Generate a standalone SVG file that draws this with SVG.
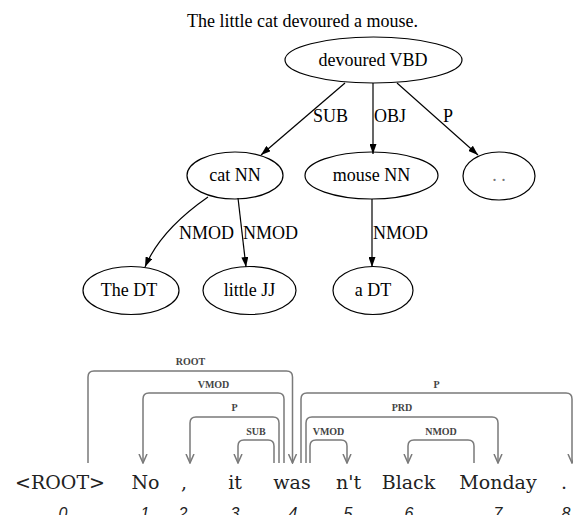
<svg xmlns="http://www.w3.org/2000/svg" width="573" height="515" viewBox="0 0 573 515">
  <style>
    .node ellipse { fill: none; stroke: #000; stroke-width: 1.2; }
    .t { font-family: "Liberation Serif", "Times New Roman", serif; font-size: 18px; fill: #000; }
    .mid { text-anchor: middle; }
    .edge { fill: none; stroke: #000; stroke-width: 1.2; marker-end: url(#solid); }
    .arc { fill: none; stroke: #7a7a7a; stroke-width: 1.5; }
    .arc.head { marker-end: url(#open); }
    .lab { font-family: "Liberation Serif", "Times New Roman", serif; font-size: 10px; font-weight: bold; fill: #444; text-anchor: middle; }
    .word { font-family: "DejaVu Serif", serif; font-size: 19px; fill: #222; text-anchor: middle; }
    .idx { font-family: "Liberation Sans", Arial, sans-serif; font-size: 16px; font-style: italic; fill: #222; text-anchor: middle; }
  </style>
  <defs>
    <marker id="solid" viewBox="0 0 10 7" refX="10" refY="3.5" markerWidth="10" markerHeight="7" markerUnits="userSpaceOnUse" orient="auto">
      <path d="M0,0 L10,3.5 L0,7 z" fill="#000"/>
    </marker>
    <marker id="open" viewBox="0 0 10 10" refX="9" refY="5" markerWidth="10" markerHeight="10" markerUnits="userSpaceOnUse" orient="auto">
      <path d="M0,1 L9,5 L0,9" fill="none" stroke="#7a7a7a" stroke-width="1.5"/>
    </marker>
  </defs>

  <!-- constituent tree -->
  <text class="t" x="187" y="27">The little cat devoured a mouse.</text>

  <g id="edges-tree">
    <path class="edge" d="M345,83 L261,155"/>
    <path class="edge" d="M373,83 L373,154"/>
    <path class="edge" d="M397,83 L478,155"/>
    <path class="edge" d="M208,197 C185,213 158,236 145,267"/>
    <path class="edge" d="M238,198 L246,267"/>
    <path class="edge" d="M372,199 L372,267"/>
    <text class="t" x="313" y="122">SUB</text>
    <text class="t" x="374" y="122">OBJ</text>
    <text class="t" x="443" y="122">P</text>
    <text class="t" x="179" y="239">NMOD</text>
    <text class="t" x="243" y="239">NMOD</text>
    <text class="t" x="373" y="239">NMOD</text>
  </g>

  <g id="n-devoured" class="node">
    <ellipse cx="373.5" cy="60" rx="88.5" ry="23"/>
    <text class="t mid" x="373" y="66">devoured VBD</text>
  </g>
  <g id="n-cat" class="node">
    <ellipse cx="235" cy="175.5" rx="48" ry="23.5"/>
    <text class="t mid" x="235" y="181">cat NN</text>
  </g>
  <g id="n-mouse" class="node">
    <ellipse cx="371.5" cy="175.5" rx="66.5" ry="23.5"/>
    <text class="t mid" x="371.5" y="181">mouse NN</text>
  </g>
  <g id="n-dots" class="node">
    <ellipse cx="499" cy="176" rx="36" ry="24"/>
    <text class="t mid" x="499" y="181" style="fill:#777">. .</text>
  </g>
  <g id="n-the" class="node">
    <ellipse cx="131" cy="290.5" rx="48" ry="24"/>
    <text class="t mid" x="129" y="296">The DT</text>
  </g>
  <g id="n-little" class="node">
    <ellipse cx="249.5" cy="290.5" rx="46.5" ry="24"/>
    <text class="t mid" x="249.5" y="296">little JJ</text>
  </g>
  <g id="n-a" class="node">
    <ellipse cx="373" cy="290.5" rx="40" ry="24"/>
    <text class="t mid" x="373" y="296">a DT</text>
  </g>

  <!-- dependency arcs -->
  <g id="arcs">
    <path class="arc head" d="M88,463 V377 Q88,371 94,371 H286.5 Q292.5,371 292.5,377 V463"/>
    <path class="arc head" d="M284,463 V399 Q284,393 278,393 H149 Q143,393 143,399 V463"/>
    <path class="arc head" d="M279,463 V423 Q279,417 273,417 H196 Q190,417 190,423 V463"/>
    <path class="arc head" d="M274,463 V446 Q274,440 268,440 H244 Q238,440 238,446 V463"/>
    <path class="arc head" d="M301,463 V399 Q301,393 307,393 H566 Q572,393 572,399 V463"/>
    <path class="arc head" d="M306,463 V423 Q306,417 312,417 H492 Q498,417 498,423 V463"/>
    <path class="arc head" d="M310,463 V446 Q310,440 316,440 H341 Q347,440 347,446 V463"/>
    <path class="arc head" d="M474,463 V446 Q474,440 468,440 H414 Q408,440 408,446 V463"/>
    <text class="lab" x="190.5" y="365">ROOT</text>
    <text class="lab" x="213.5" y="388">VMOD</text>
    <text class="lab" x="234.5" y="411">P</text>
    <text class="lab" x="256" y="435">SUB</text>
    <text class="lab" x="436.5" y="388">P</text>
    <text class="lab" x="402" y="411">PRD</text>
    <text class="lab" x="328.5" y="435">VMOD</text>
    <text class="lab" x="441" y="435">NMOD</text>
  </g>

  <g id="w0"><text class="word" x="60" y="489">&lt;ROOT&gt;</text><text class="idx" x="63" y="519">0</text></g>
  <g id="w1"><text class="word" x="145.5" y="489">No</text><text class="idx" x="145" y="519">1</text></g>
  <g id="w2"><text class="word" x="184" y="489">,</text><text class="idx" x="183" y="519">2</text></g>
  <g id="w3"><text class="word" x="235" y="489">it</text><text class="idx" x="235" y="519">3</text></g>
  <g id="w4"><text class="word" x="292" y="489">was</text><text class="idx" x="293" y="519">4</text></g>
  <g id="w5"><text class="word" x="348.5" y="489">n't</text><text class="idx" x="348" y="519">5</text></g>
  <g id="w6"><text class="word" x="408.5" y="489">Black</text><text class="idx" x="409" y="519">6</text></g>
  <g id="w7"><text class="word" x="498" y="489">Monday</text><text class="idx" x="498" y="519">7</text></g>
  <g id="w8"><text class="word" x="564" y="489">.</text><text class="idx" x="566" y="519">8</text></g>
</svg>
